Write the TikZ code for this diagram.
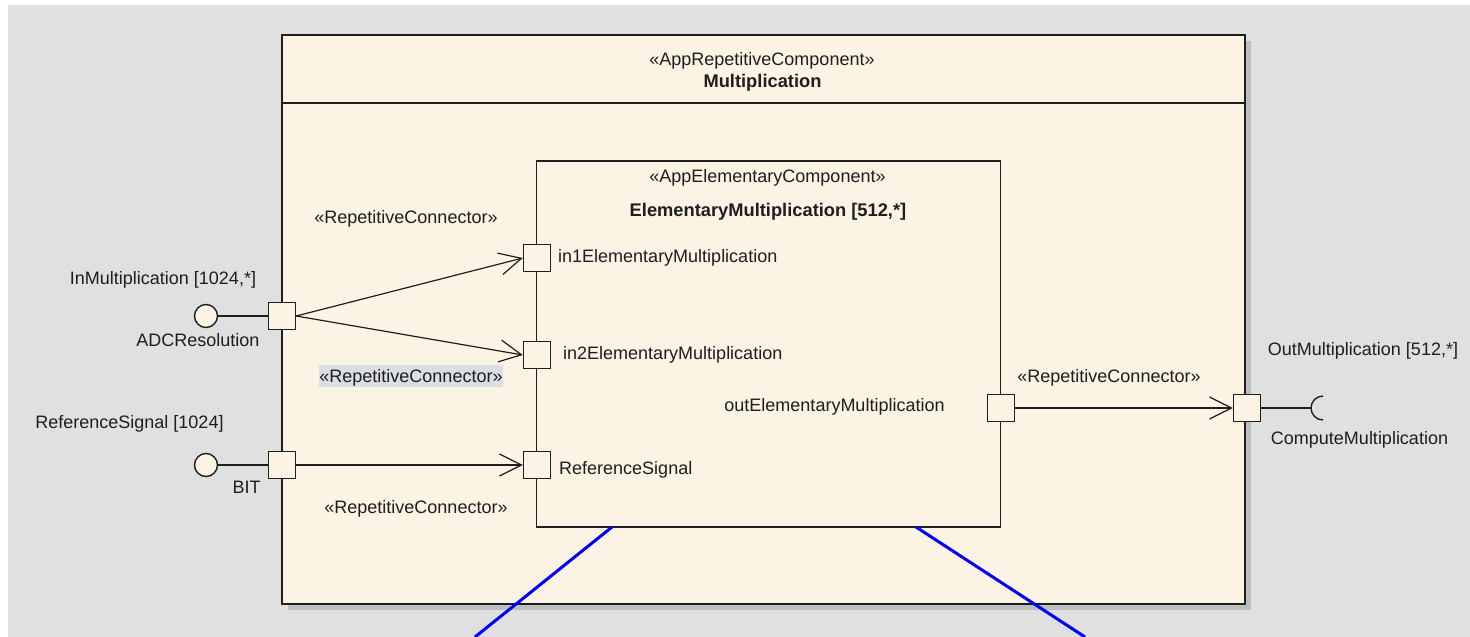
\documentclass[tikz,border=0pt]{standalone}
\usepackage{fontspec}
\setmainfont{Liberation Sans}
\usetikzlibrary{arrows.meta}
\definecolor{bggray}{RGB}{224,224,224}
\definecolor{cream}{RGB}{251,243,228}
\definecolor{shadowgray}{RGB}{190,190,190}
\definecolor{hilite}{RGB}{220,222,230}
\definecolor{ink}{RGB}{30,30,30}
\begin{document}
\begin{tikzpicture}[x=1pt,y=-1pt,
  every node/.style={font=\fontsize{18}{20}\selectfont, text=ink},
  lbl/.style={inner sep=0pt, anchor=base},
  lblw/.style={inner sep=0pt, anchor=base west},
  bold/.style={font=\fontsize{18.3}{20}\selectfont\bfseries},
  boxline/.style={draw=ink, line width=1.4pt},
  port/.style={rectangle, draw=ink, line width=1.4pt, fill=cream, minimum size=27pt, inner sep=0pt},
  lolli/.style={circle, draw=ink, line width=1.4pt, fill=cream, minimum size=23pt, inner sep=0pt},
  conn/.style={draw=ink, line width=1.2pt, -{Straight Barb[length=22pt,width=22pt,line width=1.2pt]}},
  wire/.style={draw=ink, line width=1.4pt},
  bluestroke/.style={draw=blue, line width=3pt}]
\useasboundingbox (0,0) rectangle (1470,637);
\fill[white] (0,0) rectangle (1470,637);
\fill[bggray] (8,5) rectangle (1470,637);
% outer component
\fill[shadowgray] (288,41) rectangle (1251,610);
\node[boxline, fill=cream, minimum width=963pt, minimum height=569pt, inner sep=0pt] (outer) at (763.5,319.5) {};
\coordinate (sepY) at (0,103);
\draw[boxline] (outer.west |- sepY) -- (outer.east |- sepY);
\node[lbl] (st1) at (762,65.5) {«AppRepetitiveComponent»};
\node[lbl, bold] (nm1) at (762.5,87.5) {Multiplication};
% inner component
\node[boxline, fill=cream, minimum width=464pt, minimum height=366pt, inner sep=0pt] (inner) at (768.5,344) {};
\node[lbl] (st2) at (767.5,182.5) {«AppElementaryComponent»};
\node[lbl, bold] (nm2) at (768,216.5) {ElementaryMultiplication [512,*]};
% ports
\node[port] (pin) at (282,316) {};
\node[port] (pref) at (282,465) {};
\node[port] (pout) at (1247,408) {};
\node[port] (pin1) at (537,258) {};
\node[port] (pin2) at (537,355) {};
\node[port] (pref2) at (537,465) {};
\node[port] (pout2) at (1001,408) {};
% port labels
\node[lblw] (tin1) at (558,262.5) {in1ElementaryMultiplication};
\node[lblw] (tin2) at (563,359.5) {in2ElementaryMultiplication};
\node[lblw] (tref2) at (559,474.5) {ReferenceSignal};
\node[lbl] (tout2) at (834.5,411.5) {outElementaryMultiplication};
% outer port labels
\node[lbl] (tin) at (163,284.5) {InMultiplication [1024,*]};
\node[lbl] (tadc) at (198,346.5) {ADCResolution};
\node[lbl] (tref) at (129.5,428.5) {ReferenceSignal [1024]};
\node[lbl] (tbit) at (246.5,493.5) {BIT};
\node[lbl] (tout) at (1363,355.5) {OutMultiplication [512,*]};
\node[lbl] (tcomp) at (1359.5,444.5) {ComputeMultiplication};
% provided / required interfaces
\node[lolli] (l1) at (206,316) {};
\node[lolli] (l2) at (206,465) {};
\draw[wire] (l1) -- (pin);
\draw[wire] (l2) -- (pref);
\coordinate (sock) at (1311,408);
\draw[wire] (pout.east) -- (sock);
\draw[wire] ([xshift=12pt,yshift=12pt]sock) arc[start angle=90,end angle=270,radius=12pt];
% connectors
\draw[conn] (pin.east) -- (pin1.west);
\draw[conn] (pin.east) -- (pin2.west);
\draw[conn] (pref.east) -- (pref2.west);
\draw[conn] (pout2.east) -- (pout.west);
% connector labels
\node[lbl] (c1) at (406,223.5) {«RepetitiveConnector»};
\node[lbl, fill=hilite, text height=18pt, text depth=4pt] (c2) at (411,382.5) {«RepetitiveConnector»};
\node[lbl] (c3) at (416,513.5) {«RepetitiveConnector»};
\node[lbl] (c4) at (1109,382.5) {«RepetitiveConnector»};
% blue lines
\coordinate (b1) at (612,527);
\coordinate (b1e) at (475,637);
\coordinate (b2) at (916,527);
\coordinate (b2e) at (1085,637);
\draw[bluestroke] (b1) -- (b1e);
\draw[bluestroke] (b2) -- (b2e);
\end{tikzpicture}
\end{document}
